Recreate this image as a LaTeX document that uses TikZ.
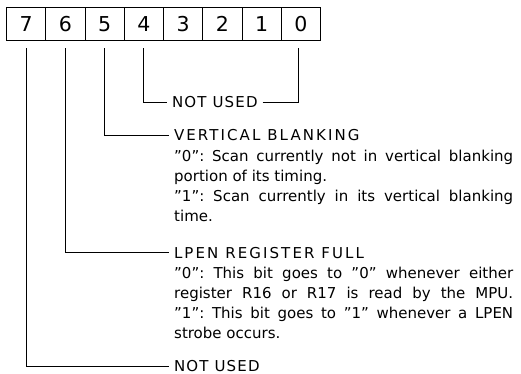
\documentclass[tikz,border=0pt]{standalone}
\usepackage{fontspec}
\setmainfont{DejaVu Sans}[Ligatures=TeX]
\newfontfamily\capsfont{DejaVu Sans}[LetterSpace=8]
\newfontfamily\headfont{DejaVu Sans}[LetterSpace=14]
\newfontfamily\digitfont{DejaVu Sans}
\begin{document}
\begin{tikzpicture}[x=1pt,y=-1pt,
  cell/.style={draw, line width=1pt, minimum width=39.25pt, minimum height=33pt,
    inner sep=0pt, anchor=north west, font=\digitfont\fontsize{20.5}{20.5}\selectfont},
  lbl/.style={inner sep=0pt, outer xsep=5pt, anchor=base west,
    font=\capsfont\fontsize{15}{20.3}\selectfont},
  head/.style={lbl, font=\headfont\fontsize{15}{20.3}\selectfont},
  body/.style={inner sep=0pt, anchor=base west, text width=339pt, align=justify,
    font=\frenchspacing\fontsize{15}{20.3}\selectfont},
  conn/.style={line width=1pt}]
\useasboundingbox (0,0) rectangle (521,374);
\foreach \i [count=\k from 0] in {7,...,0}
  \node[cell] (c\i) at (6+39.25*\k, 7) {\i};
% texts
\node[lbl] (n4) at (167,107.5) {NOT USED};
\node[head] (h5) at (169,140.5) {VERTICAL BLANKING};
\node[body] (b5) at (174,161) {''0'': Scan currently not in vertical blanking\linebreak portion of its timing.\par
''1'': Scan currently in its vertical blanking\linebreak time.};
\node[head] (h6) at (169,258) {LPEN REGISTER FULL};
\node[body] (b6) at (174,278) {''0'': This bit goes to ''0'' whenever either\linebreak register R16 or R17 is read by the MPU.{\parfillskip=0pt\par}
''1'': This bit goes to ''1'' whenever a LPEN\linebreak strobe occurs.};
\node[lbl] (n7) at (169,371.8) {NOT USED};
% connectors
\draw[conn] ([yshift=-7.5pt]c4.south) |- (n4.west);
\draw[conn] (n4.east) -| ([yshift=-7.5pt,xshift=-2pt]c0.south);
\draw[conn] ([yshift=-7.5pt]c5.south) |- (h5.west);
\draw[conn] ([yshift=-7.5pt]c6.south) |- (h6.west);
\draw[conn] ([yshift=-7.5pt]c7.south) |- (n7.west);
\end{tikzpicture}
\end{document}
